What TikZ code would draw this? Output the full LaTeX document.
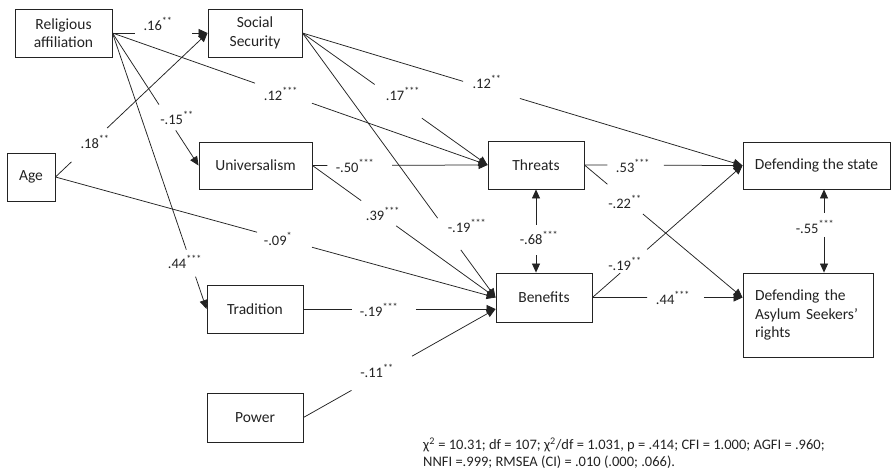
\documentclass[tikz,border=0pt]{standalone}
\usepackage{fontspec}
\setmainfont{Carlito}
\usetikzlibrary{arrows.meta,calc}
\definecolor{ink}{RGB}{35,35,35}
\tikzset{
  box/.style={draw=ink, line width=0.9pt, inner sep=0pt, text=ink, align=center,
    font=\fontsize{15.5}{18.5}\selectfont},
  conn/.style={draw=ink, line width=0.75pt},
  arr/.style={conn, -{Triangle[length=9pt,width=8pt]}},
  coef/.style={font=\fontsize{14.5}{16}\selectfont, text=ink, inner sep=0pt, anchor=base, yshift=-5pt},
  fit/.style={font=\fontsize{14.5}{16}\selectfont, text=ink, inner sep=0pt, anchor=base west},
}
\newcommand\sg[1]{\textsuperscript{#1}}
\newcommand\gapedge[4]{\draw[conn] (#1) -- ($(#1)!#3!(#2)$); \draw[arr] ($(#1)!#4!(#2)$) -- (#2);}
\begin{document}
\begin{tikzpicture}[x=1pt,y=-1pt]
\fill[white] (0,0) rectangle (891,474);
\useasboundingbox (0,0) rectangle (891,474);
% boxes
\node[box, minimum width=97, minimum height=48] (ra) at (63.5,33) {Religious\\affiliation};
\node[box, minimum width=94, minimum height=48] (ss) at (255,33) {Social\\Security};
\node[box, minimum width=48, minimum height=48] (age) at (31,177) {Age};
\node[box, minimum width=113, minimum height=47] (univ) at (255.5,165.5) {Universalism};
\node[box, minimum width=96, minimum height=48] (trad) at (255,309) {Tradition};
\node[box, minimum width=96, minimum height=49] (power) at (255,417.5) {Power};
\node[box, minimum width=96, minimum height=48] (threats) at (536,165) {Threats};
\node[box, minimum width=96, minimum height=49] (ben) at (544,297.5) {Benefits};
\node[box, minimum width=147, minimum height=47] (ds) at (816.5,165.5) {Defending the state};
\node[box, minimum height=84, inner xsep=12pt, text width=106pt, align=left] (da) at (808,315) {Defending the\\Asylum Seekers’\\rights};
% helper points
\coordinate (benlow) at (ben.west |- trad.east);
\coordinate (dain) at (da.west |- ben.east);
\coordinate (thb) at (threats.south |- ben.north);
\coordinate (dsb) at ($(ds.south)+(7.5,0)$);
\coordinate (dat) at (dsb |- da.north);
% connectors
\gapedge{ra.east}{ss.west}{0.24}{0.84}
\gapedge{age.east}{ss.west}{0.105}{0.34}
\gapedge{ra.east}{threats.west}{0.38}{0.532}
\gapedge{ra.east}{univ.west}{0.54}{0.735}
\gapedge{ra.east}{trad.west}{0.785}{0.883}
\gapedge{age.east}{ben.west}{0.458}{0.583}
\gapedge{ss.east}{threats.west}{0.39}{0.645}
\gapedge{ss.east}{ben.west}{0.70}{0.82}
\gapedge{ss.east}{ds.west}{0.365}{0.494}
\gapedge{univ.east}{threats.west}{0.085}{0.455}
\gapedge{univ.east}{ben.west}{0.266}{0.457}
\gapedge{trad.east}{benlow}{0.254}{0.585}
\gapedge{power.east}{benlow}{0.25}{0.565}
\gapedge{threats.east}{ds.west}{0.145}{0.503}
\gapedge{threats.east}{dain}{0.145}{0.37}
\gapedge{ben.east}{ds.west}{0.185}{0.364}
\gapedge{ben.east}{dain}{0.364}{0.742}
\draw[conn, {Triangle[length=9pt,width=8pt]}-] (threats.south) -- ($(threats.south)!0.43!(thb)$);
\draw[arr] ($(threats.south)!0.79!(thb)$) -- (thb);
\draw[conn, {Triangle[length=9pt,width=8pt]}-] (dsb) -- ($(dsb)!0.286!(dat)$);
\draw[arr] ($(dsb)!0.57!(dat)$) -- (dat);
% coefficients
\node[coef] (l16) at (158,25) {.16\sg{**}};
\node[coef] (l18) at (95,143) {.18\sg{**}};
\node[coef] (l12a) at (281,95) {.12\sg{***}};
\node[coef] (l15) at (177,119) {-.15\sg{**}};
\node[coef] (l44a) at (185,263) {.44\sg{***}};
\node[coef] (l09) at (278,240) {-.09\sg{*}};
\node[coef] (l17) at (403,95) {.17\sg{***}};
\node[coef] (l12b) at (487,83) {.12\sg{**}};
\node[coef] (l50) at (355,167) {-.50\sg{***}};
\node[coef] (l39) at (383,215) {.39\sg{***}};
\node[coef] (l19a) at (467,227) {-.19\sg{***}};
\node[coef] (l19b) at (379,311) {-.19\sg{***}};
\node[coef] (l11) at (377,372) {-.11\sg{**}};
\node[coef] (l68) at (539,239) {-.68\sg{***}};
\node[coef] (l53) at (633,167) {.53\sg{***}};
\node[coef] (l22) at (625,203) {-.22\sg{**}};
\node[coef] (l19c) at (625,265) {-.19\sg{**}};
\node[coef] (l44b) at (673,299) {.44\sg{***}};
\node[coef] (l55) at (815,228) {-.55\sg{***}};
% fit indices
\node[fit] (fit1) at (423,449.5) {χ\sg{2} = 10.31; df = 107; χ\sg{2}/df = 1.031, p = .414; CFI = 1.000; AGFI = .960;};
\node[fit] (fit2) at (423,466.5) {NNFI =.999; RMSEA (CI) = .010 (.000; .066).};
\end{tikzpicture}
\end{document}
